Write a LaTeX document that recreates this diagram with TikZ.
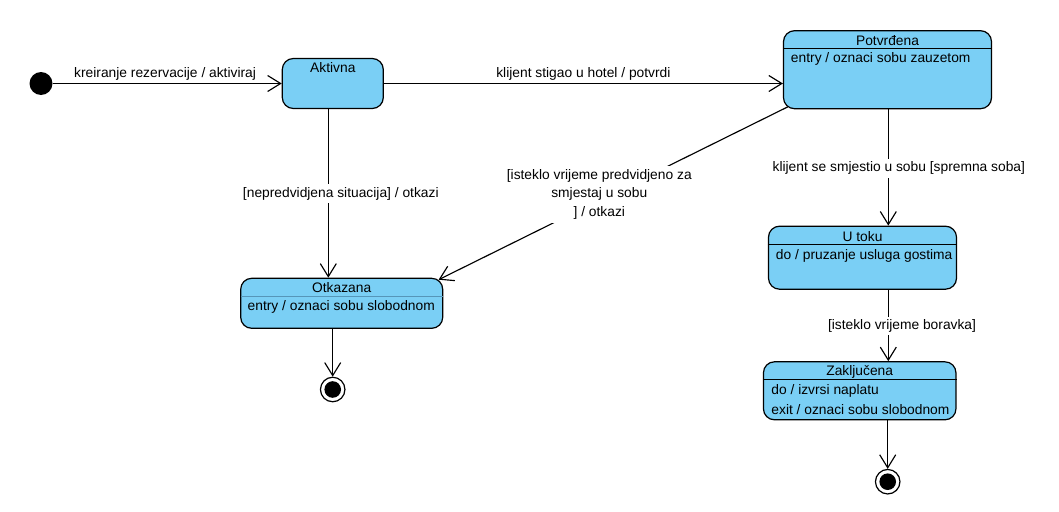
\documentclass[tikz,border=0pt]{standalone}
\usepackage{fontspec}
\setmainfont{Liberation Sans}
\usetikzlibrary{arrows.meta}
\definecolor{statefill}{RGB}{122,207,245}
\definecolor{sepfaint}{RGB}{85,150,185}
\begin{document}
\begin{tikzpicture}[x=1pt,y=-1pt,
  font=\fontsize{13.8}{18.5}\selectfont,
  line width=1.15pt,
  state/.style={draw=black, fill=statefill, rounded corners=11pt, inner sep=0pt, line width=1.2pt},
  trans/.style={draw, -{Straight Barb[length=13pt,width=16pt,line width=1.15pt]}},
  lbl/.style={fill=white, inner sep=3pt, align=center},
  plainlbl/.style={inner sep=0pt},
  body/.style={anchor=west, inner sep=0pt},
  initstate/.style={circle, fill=black, minimum size=23pt, inner sep=0pt},
  finalstate/.style={circle, draw=black, fill=white, minimum size=24.5pt, inner sep=0pt, line width=1.2pt},
]
\useasboundingbox (0,0) rectangle (1059,511);

% pseudo states
\node[initstate] (init) at (41,83.5) {};
\node[finalstate] (final1) at (332.7,389.5) {};
\fill (final1.center) circle (8.3pt);
\node[finalstate] (final2) at (887.7,481.7) {};
\fill (final2.center) circle (8.3pt);

% Aktivna
\node[state, minimum width=101pt, minimum height=50pt] (aktivna) at (332.8,83.5) {};
\node at ([yshift=-10pt]aktivna.north) {Aktivna};

% Potvrđena
\node[state, minimum width=208pt, minimum height=78pt] (potvrdjena) at (887.5,69.7) {};
\node at ([yshift=-10.3pt]potvrdjena.north) {Potvrđena};
\draw ([yshift=-18.5pt]potvrdjena.north west) -- ([yshift=-18.5pt]potvrdjena.north east);
\node[body] at ([xshift=7.5pt,yshift=-29pt]potvrdjena.north west) {entry / oznaci sobu zauzetom};

% Otkazana
\node[state, minimum width=202pt, minimum height=50pt] (otkazana) at (341.7,303.3) {};
\node at ([yshift=-10pt]otkazana.north) {Otkazana};
\draw[sepfaint] ([yshift=-18.5pt,xshift=0.6pt]otkazana.north west) -- ([yshift=-18.5pt,xshift=-0.6pt]otkazana.north east);
\node[body] at ([xshift=7pt,yshift=-29pt]otkazana.north west) {entry / oznaci sobu slobodnom};

% U toku
\node[state, minimum width=188pt, minimum height=63pt] (utoku) at (862.5,257.7) {};
\node at ([yshift=-10.5pt]utoku.north) {U toku};
\draw ([yshift=-19pt]utoku.north west) -- ([yshift=-19pt]utoku.north east);
\node[body] at ([xshift=7.5pt,yshift=-30pt]utoku.north west) {do / pruzanje usluga gostima};

% Zaključena
\node[state, minimum width=192.5pt, minimum height=58pt] (zakljucena) at (859.7,390.8) {};
\node at ([yshift=-10.8pt]zakljucena.north) {Zaključena};
\draw ([yshift=-18pt]zakljucena.north west) -- ([yshift=-18pt]zakljucena.north east);
\node[body] at ([xshift=8pt,yshift=-30pt]zakljucena.north west) {do / izvrsi naplatu};
\node[body] at ([xshift=8pt,yshift=-48.5pt]zakljucena.north west) {exit / oznaci sobu slobodnom};

% transitions
\draw[trans] (init.east) -- (init -| aktivna.west)
  node[pos=0.49, yshift=10pt, plainlbl] {kreiranje rezervacije / aktiviraj};

\draw[trans] (aktivna.east) -- (aktivna.east -| potvrdjena.west)
  node[pos=0.5, yshift=10pt, plainlbl] {klijent stigao u hotel / potvrdi};

\draw[trans] ([xshift=-4.5pt]aktivna.south) -- ([xshift=-4.5pt]aktivna.south |- otkazana.north)
  node[pos=0.503, xshift=12.5pt, lbl] {[nepredvidjena situacija] / otkazi};

\draw[trans] ([xshift=5pt,yshift=2.5pt]potvrdjena.south west) -- ([xshift=-4.7pt,yshift=-2pt]otkazana.north east)
  node[pos=0.54, yshift=5.8pt, lbl, inner sep=3.5pt] {[isteklo vrijeme predvidjeno za\\smjestaj u sobu\\] / otkazi};

\draw[trans] ([xshift=0.8pt]potvrdjena.south) -- ([xshift=0.8pt]potvrdjena.south |- utoku.north)
  node[pos=0.508, xshift=10.5pt, lbl] {klijent se smjestio u sobu [spremna soba]};

\draw[trans] ([xshift=25.8pt]utoku.south) -- ([xshift=25.8pt]utoku.south |- zakljucena.north)
  node[pos=0.507, xshift=13.7pt, lbl] {[isteklo vrijeme boravka]};

\draw[trans] (final1 |- otkazana.south) -- (final1.north);
\draw[trans] (final2 |- zakljucena.south) -- (final2.north);
\end{tikzpicture}
\end{document}
